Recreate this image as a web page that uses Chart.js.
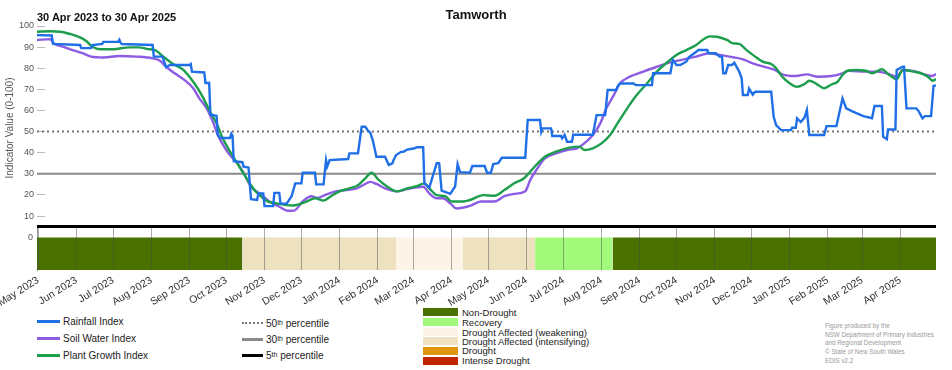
<!DOCTYPE html>
<html>
<head>
<meta charset="utf-8">
<title>Tamworth</title>
<script src="https://cdn.jsdelivr.net/npm/chart.js@4.4.1/dist/chart.umd.min.js"></script>
<style>
  body { margin: 0; background: #fff; font-family: "Liberation Sans", Arial, sans-serif; }
  #wrap { position: relative; width: 952px; height: 370px; overflow: hidden; }
  #main-chart { position: absolute; left: 0; top: 0; z-index: 2; }
  #band-chart { position: absolute; left: 0; top: 222px; z-index: 1; }
  .title { position: absolute; left: 0; width: 952px; top: 7px; text-align: center; font-weight: bold; font-size: 13px; color: #111; z-index: 3; }
  .subtitle { position: absolute; left: 37px; top: 11px; font-weight: bold; font-size: 11px; color: #111; z-index: 3; }
  .legend-row { position: absolute; height: 14px; display: flex; align-items: center; font-size: 10px; color: #222; white-space: nowrap; }
  .legend-row .swatch { width: 23px; margin-right: 3px; }
  .legend-row sup { font-size: 7px; line-height: 0; }
  .status-row { position: absolute; height: 10px; display: flex; align-items: center; font-size: 9.5px; color: #222; white-space: nowrap; }
  .status-row .box { width: 35px; height: 8px; margin-right: 4px; }
  .credit { position: absolute; left: 825px; top: 322px; font-size: 6.3px; line-height: 8.7px; color: #999; }
</style>
</head>
<body>
<div id="wrap">
  <div class="title">Tamworth</div>
  <div class="subtitle">30 Apr 2023 to 30 Apr 2025</div>
  <canvas id="main-chart" width="952" height="230"></canvas>
  <canvas id="band-chart" width="952" height="86"></canvas>
  <div id="legend"></div>
  <div class="credit">Figure produced by the<br>NSW Department of Primary Industries<br>and Regional Development<br>© State of New South Wales<br>EDIS v2.2</div>
</div>
<script>
/* ---------- data ---------- */

const startDate = "2023-04-30";
const endDate = "2025-04-30";

const monthLabels = [
  "May 2023", "Jun 2023", "Jul 2023", "Aug 2023", "Sep 2023", "Oct 2023",
  "Nov 2023", "Dec 2023", "Jan 2024", "Feb 2024", "Mar 2024", "Apr 2024",
  "May 2024", "Jun 2024", "Jul 2024", "Aug 2024", "Sep 2024", "Oct 2024",
  "Nov 2024", "Dec 2024", "Jan 2025", "Feb 2025", "Mar 2025", "Apr 2025",
];

const yTicks = [10, 20, 30, 40, 50, 60, 70, 80, 90, 100];

const rainfallDates = [
  "2023-04-30", "2023-05-12", "2023-05-13", "2023-06-04", "2023-06-05", "2023-06-13",
  "2023-06-14", "2023-06-22", "2023-06-23", "2023-07-05", "2023-07-06", "2023-07-07",
  "2023-07-08", "2023-08-02", "2023-08-03", "2023-08-10", "2023-08-13", "2023-08-16",
  "2023-09-01", "2023-09-02", "2023-09-03", "2023-09-13", "2023-09-14", "2023-09-17",
  "2023-09-18", "2023-09-23", "2023-09-24", "2023-09-26", "2023-10-04", "2023-10-05",
  "2023-10-06", "2023-10-07", "2023-10-14", "2023-10-15", "2023-10-19", "2023-10-21",
  "2023-10-26", "2023-10-27", "2023-10-31", "2023-11-01", "2023-11-08", "2023-11-09",
  "2023-11-13", "2023-11-14", "2023-11-19", "2023-11-23", "2023-11-26", "2023-12-01",
  "2023-12-02", "2023-12-12", "2023-12-13", "2023-12-19", "2023-12-21", "2023-12-22",
  "2023-12-24", "2024-01-08", "2024-01-09", "2024-01-16", "2024-01-19", "2024-01-22",
  "2024-01-24", "2024-01-26", "2024-01-28", "2024-01-31", "2024-02-07", "2024-02-10",
  "2024-02-13", "2024-02-14", "2024-02-16", "2024-02-20", "2024-02-22", "2024-02-25",
  "2024-03-02", "2024-03-04", "2024-03-09", "2024-03-10", "2024-03-14", "2024-03-20",
  "2024-03-22", "2024-03-24", "2024-03-31", "2024-04-04", "2024-04-06", "2024-04-08",
  "2024-04-16", "2024-04-18", "2024-04-28", "2024-04-30", "2024-05-03", "2024-05-05",
  "2024-05-09", "2024-05-12", "2024-05-31", "2024-06-02", "2024-06-12", "2024-06-13",
  "2024-06-14", "2024-06-21", "2024-06-22", "2024-06-29", "2024-06-30", "2024-07-02",
  "2024-07-04", "2024-07-08", "2024-07-09", "2024-07-25", "2024-07-28", "2024-08-04",
  "2024-08-06", "2024-08-13", "2024-08-14", "2024-08-16", "2024-08-27", "2024-08-29",
  "2024-09-11", "2024-09-12", "2024-09-26", "2024-09-28", "2024-10-01", "2024-10-04",
  "2024-10-09", "2024-10-11", "2024-10-19", "2024-10-26", "2024-10-27", "2024-11-02",
  "2024-11-05", "2024-11-07", "2024-11-08", "2024-11-10", "2024-11-12", "2024-11-15",
  "2024-11-17", "2024-11-21", "2024-11-23", "2024-11-24", "2024-11-28", "2024-11-29",
  "2024-12-02", "2024-12-04", "2024-12-17", "2024-12-19", "2024-12-21", "2024-12-25",
  "2025-01-02", "2025-01-03", "2025-01-06", "2025-01-07", "2025-01-10", "2025-01-13",
  "2025-01-15", "2025-01-17", "2025-01-29", "2025-01-31", "2025-02-08", "2025-02-13",
  "2025-02-16", "2025-02-21", "2025-03-02", "2025-03-09", "2025-03-11", "2025-03-17",
  "2025-03-18", "2025-03-21", "2025-03-22", "2025-03-28", "2025-03-29", "2025-04-03",
  "2025-04-04", "2025-04-06", "2025-04-14", "2025-04-16", "2025-04-19", "2025-04-21",
  "2025-04-26", "2025-04-28", "2025-04-30",
];
const rainfallValues = [
  95.7, 95.5, 91.5, 91.0, 89.5, 89.5,
  91.0, 91.5, 92.5, 92.5, 93.5, 92.0,
  91.5, 91.0, 85.5, 85.5, 80.5, 81.5,
  81.5, 82.0, 78.4, 78.0, 73.0, 73.0,
  58.0, 57.5, 48.5, 47.0, 47.0, 49.0,
  48.0, 36.0, 35.5, 33.4, 33.0, 18.0,
  17.6, 20.7, 20.7, 14.7, 14.7, 21.0,
  21.0, 15.9, 15.9, 19.4, 25.5, 25.5,
  30.5, 30.5, 25.0, 25.0, 36.5, 33.5,
  36.5, 37.0, 39.7, 39.7, 52.3, 52.3,
  50.5, 49.5, 46.0, 38.1, 38.1, 34.2,
  35.0, 36.5, 38.9, 40.4, 40.4, 41.5,
  42.1, 42.6, 42.6, 25.5, 23.5, 35.0,
  35.0, 22.0, 20.5, 24.0, 34.6, 30.8,
  30.5, 33.7, 33.7, 30.5, 30.5, 34.6,
  35.0, 37.6, 37.6, 55.5, 55.5, 49.9,
  51.5, 51.5, 47.9, 47.9, 46.8, 48.5,
  45.2, 45.2, 48.5, 48.5, 57.8, 57.8,
  69.7, 69.7, 71.3, 72.8, 72.8, 72.0,
  72.0, 77.6, 77.6, 83.9, 81.5, 81.5,
  83.1, 85.2, 88.6, 88.6, 87.1, 87.1,
  85.5, 85.5, 77.6, 77.6, 81.5, 81.5,
  82.6, 78.4, 75.2, 67.3, 67.3, 70.4,
  67.5, 68.9, 68.9, 57.0, 53.1, 50.7,
  50.7, 51.8, 51.8, 56.3, 54.5, 56.5,
  60.2, 48.4, 48.4, 52.6, 52.6, 65.7,
  61.0, 59.6, 57.3, 56.3, 62.1, 62.1,
  47.6, 46.4, 51.0, 51.0, 79.2, 80.7,
  80.7, 61.0, 61.0, 59.6, 56.3, 57.3,
  57.3, 71.6, 71.9,
];

const soilDates = [
  "2023-04-30", "2023-05-11", "2023-05-13", "2023-05-21", "2023-05-29", "2023-06-06",
  "2023-06-13", "2023-06-23", "2023-07-06", "2023-07-20", "2023-08-02", "2023-08-08",
  "2023-08-13", "2023-08-20", "2023-08-28", "2023-09-04", "2023-09-09", "2023-09-15",
  "2023-09-20", "2023-09-24", "2023-09-30", "2023-10-05", "2023-10-10", "2023-10-16",
  "2023-10-21", "2023-10-28", "2023-11-05", "2023-11-13", "2023-11-20", "2023-11-25",
  "2023-12-02", "2023-12-09", "2023-12-14", "2023-12-21", "2023-12-29", "2024-01-06",
  "2024-01-15", "2024-01-20", "2024-01-26", "2024-01-31", "2024-02-07", "2024-02-17",
  "2024-02-25", "2024-03-04", "2024-03-09", "2024-03-14", "2024-03-20", "2024-03-25",
  "2024-03-31", "2024-04-05", "2024-04-16", "2024-04-25", "2024-05-06", "2024-05-14",
  "2024-05-22", "2024-05-31", "2024-06-04", "2024-06-09", "2024-06-16", "2024-06-25",
  "2024-07-04", "2024-07-12", "2024-07-18", "2024-07-25", "2024-07-31", "2024-08-05",
  "2024-08-11", "2024-08-16", "2024-08-24", "2024-09-04", "2024-09-15", "2024-09-26",
  "2024-10-07", "2024-10-17", "2024-10-28", "2024-11-05", "2024-11-16", "2024-11-24",
  "2024-12-02", "2024-12-13", "2024-12-20", "2024-12-26", "2025-01-06", "2025-01-15",
  "2025-01-24", "2025-02-04", "2025-02-13", "2025-02-18", "2025-03-04", "2025-03-13",
  "2025-03-21", "2025-03-29", "2025-04-03", "2025-04-14", "2025-04-22", "2025-04-27",
  "2025-04-30",
];
const soilValues = [
  93.4, 93.8, 92.1, 90.2, 88.6, 87.1,
  85.5, 85.1, 85.8, 85.5, 84.7, 83.6,
  80.7, 77.6, 74.4, 70.5, 65.7, 61.0,
  54.7, 48.4, 42.1, 38.1, 35.0, 29.4,
  23.9, 20.7, 16.9, 14.4, 12.5, 12.6,
  16.9, 19.4, 18.6, 20.2, 21.7, 22.3,
  23.1, 24.6, 26.2, 25.2, 23.1, 21.7,
  22.8, 23.6, 23.9, 20.7, 18.4, 18.4,
  16.0, 13.6, 14.8, 16.9, 16.9, 19.4,
  20.5, 21.7, 27.0, 31.8, 37.3, 39.7,
  41.3, 42.1, 44.4, 48.4, 53.9, 61.0,
  67.3, 72.8, 76.0, 78.4, 80.7, 82.8,
  84.2, 85.5, 87.1, 86.3, 85.2, 84.2,
  82.3, 80.4, 79.2, 77.1, 76.3, 77.1,
  76.0, 76.3, 77.6, 78.8, 78.4, 78.4,
  77.6, 76.0, 79.2, 78.4, 76.8, 76.3,
  77.3,
];

const plantDates = [
  "2023-04-30", "2023-05-11", "2023-05-19", "2023-05-27", "2023-06-04", "2023-06-09",
  "2023-06-14", "2023-06-21", "2023-07-01", "2023-07-14", "2023-07-22", "2023-07-28",
  "2023-08-05", "2023-08-10", "2023-08-18", "2023-08-27", "2023-09-04", "2023-09-11",
  "2023-09-17", "2023-09-23", "2023-09-28", "2023-10-04", "2023-10-09", "2023-10-14",
  "2023-10-20", "2023-10-25", "2023-10-31", "2023-11-04", "2023-11-11", "2023-11-19",
  "2023-11-24", "2023-11-30", "2023-12-05", "2023-12-12", "2023-12-19", "2023-12-25",
  "2024-01-01", "2024-01-09", "2024-01-16", "2024-01-22", "2024-01-27", "2024-02-02",
  "2024-02-09", "2024-02-17", "2024-02-25", "2024-03-04", "2024-03-10", "2024-03-14",
  "2024-03-20", "2024-03-27", "2024-04-01", "2024-04-11", "2024-04-16", "2024-04-27",
  "2024-05-06", "2024-05-14", "2024-05-22", "2024-05-30", "2024-06-04", "2024-06-09",
  "2024-06-16", "2024-06-25", "2024-07-06", "2024-07-14", "2024-07-18", "2024-07-25",
  "2024-08-01", "2024-08-08", "2024-08-14", "2024-08-21", "2024-08-29", "2024-09-07",
  "2024-09-15", "2024-09-23", "2024-10-01", "2024-10-09", "2024-10-17", "2024-10-23",
  "2024-10-28", "2024-11-03", "2024-11-11", "2024-11-16", "2024-11-21", "2024-11-27",
  "2024-12-04", "2024-12-10", "2024-12-17", "2024-12-21", "2024-12-26", "2025-01-01",
  "2025-01-07", "2025-01-13", "2025-01-17", "2025-01-23", "2025-01-29", "2025-02-04",
  "2025-02-09", "2025-02-13", "2025-02-17", "2025-02-24", "2025-03-04", "2025-03-09",
  "2025-03-17", "2025-03-22", "2025-03-29", "2025-04-03", "2025-04-12", "2025-04-19",
  "2025-04-24", "2025-04-27", "2025-04-30",
];
const plantValues = [
  97.3, 97.5, 97.3, 96.2, 94.6, 92.9,
  90.2, 89.0, 89.0, 89.9, 89.9, 89.2,
  88.3, 85.8, 82.3, 79.2, 73.6, 67.3,
  60.2, 53.9, 46.8, 40.5, 35.7, 31.0,
  25.5, 21.5, 18.4, 16.8, 16.0, 15.2,
  15.0, 15.8, 16.8, 18.4, 17.3, 19.4,
  21.7, 23.1, 24.6, 27.9, 30.5, 27.0,
  23.9, 21.7, 23.1, 24.2, 25.5, 23.1,
  19.9, 19.4, 16.9, 16.9, 17.6, 19.9,
  19.6, 22.3, 25.5, 27.9, 31.0, 34.2,
  38.1, 40.5, 42.4, 42.9, 41.3, 42.1,
  44.4, 48.4, 53.9, 60.2, 66.8, 72.8,
  78.4, 82.6, 86.3, 88.6, 91.0, 93.7,
  95.1, 94.9, 93.4, 91.8, 91.5, 88.6,
  85.5, 83.1, 82.0, 80.0, 76.0, 72.9,
  71.2, 72.5, 74.1, 72.5, 70.5, 72.3,
  73.6, 76.8, 78.8, 79.2, 78.8, 77.6,
  79.5, 77.3, 74.8, 79.2, 78.4, 77.3,
  75.7, 74.1, 74.8,
];

const seriesNames = ["Rainfall Index", "Soil Water Index", "Plant Growth Index"];
const seriesColors = ["#1f6fe6", "#8c5ce4", "#1c9e4c"];

const percentileNames = ["50", "30", "5"];
const percentileValues = [50, 30, 5];
const percentileColors = ["#777777", "#8a8a8a", "#000000"];

const statusNames = [
  "Non-Drought", "Recovery", "Drought Affected (weakening)",
  "Drought Affected (intensifying)", "Drought", "Intense Drought",
];
const statusColors = ["#4a7000", "#a2f97a", "#fdf3e7", "#ede1bf", "#e0960c", "#c02400"];

// status periods shown in the band (index into statusNames)
const periodStarts = ["2023-04-30", "2023-10-14", "2024-02-16", "2024-04-10", "2024-06-08", "2024-08-10"];
const periodEnds = ["2023-10-14", "2024-02-16", "2024-04-10", "2024-06-08", "2024-08-10", "2025-04-30"];
const periodStatus = [0, 3, 2, 3, 1, 0];

/* ---------- helpers ---------- */

const DAY = 86400000;
const MONTHS = ["Jan", "Feb", "Mar", "Apr", "May", "Jun", "Jul", "Aug", "Sep", "Oct", "Nov", "Dec"];

function dayIndex(iso) {
  const [y, m, d] = iso.split("-").map(Number);
  const [y0, m0, d0] = startDate.split("-").map(Number);
  return Math.round((Date.UTC(y, m - 1, d) - Date.UTC(y0, m0 - 1, d0)) / DAY);
}

function monthTickDay(label) {
  const [mon, year] = label.split(" ");
  const idx = MONTHS.indexOf(mon) + 1;
  return dayIndex(`${year}-${String(idx).padStart(2, "0")}-01`);
}

function toPoints(dates, values) {
  return dates.map((d, i) => ({ x: dayIndex(d), y: values[i] }));
}

// fixed axis box: 37px wide, no extra vertical padding from the labels
function fixYAxis(scale) {
  scale.width = 37;
  scale.paddingTop = 0;
  scale.paddingBottom = 0;
}

const xMax = dayIndex(endDate);
const FONT = "'Liberation Sans', Arial, sans-serif";

/* ---------- main chart ---------- */

const lineBase = { pointRadius: 0, borderWidth: 2.4, fill: false };

new Chart(document.getElementById("main-chart"), {
  type: "line",
  data: {
    datasets: [
      { ...lineBase, label: seriesNames[0], data: toPoints(rainfallDates, rainfallValues), borderColor: seriesColors[0], tension: 0 },
      { ...lineBase, label: seriesNames[2], data: toPoints(plantDates, plantValues), borderColor: seriesColors[2], cubicInterpolationMode: "monotone" },
      { ...lineBase, label: seriesNames[1], data: toPoints(soilDates, soilValues), borderColor: seriesColors[1], cubicInterpolationMode: "monotone" },
      ...percentileValues.map((v, i) => ({
        ...lineBase,
        label: percentileNames[i] + "th percentile",
        data: [{ x: 0, y: v }, { x: xMax, y: v }],
        borderColor: percentileColors[i],
        borderWidth: i === 2 ? 3 : 2,
        borderDash: i === 0 ? [2, 3] : [],
      })),
    ],
  },
  options: {
    responsive: false,
    animation: false,
    parsing: false,
    layout: { padding: { top: 26, right: 16, left: 0, bottom: 0 } },
    plugins: { legend: { display: false }, tooltip: { enabled: false } },
    scales: {
      x: { type: "linear", min: 0, max: xMax, display: false },
      y: {
        type: "linear",
        min: 3.4,
        max: 100,
        afterBuildTicks: (scale) => { scale.ticks = yTicks.map((v) => ({ value: v })); },
        afterFit: fixYAxis,
        ticks: { color: "#555", font: { family: FONT, size: 9 }, padding: 11 },
        grid: { drawOnChartArea: false, drawTicks: true, tickLength: -8, color: "#bbb" },
        border: { display: false },
        title: {
          display: true,
          text: "Indicator Value (0-100)",
          color: "#555",
          font: { family: FONT, size: 10 },
          padding: { top: 4, bottom: 0 },
        },
      },
    },
  },
});

/* ---------- status band ---------- */

new Chart(document.getElementById("band-chart"), {
  type: "line",
  data: {
    datasets: periodStarts.map((s, i) => ({
      label: statusNames[periodStatus[i]],
      data: [{ x: dayIndex(s), y: 0 }, { x: dayIndex(periodEnds[i]), y: 0 }],
      backgroundColor: statusColors[periodStatus[i]],
      borderWidth: 0,
      pointRadius: 0,
      fill: "start",
    })),
  },
  options: {
    responsive: false,
    animation: false,
    parsing: false,
    layout: { padding: { top: 5, right: 16, left: 0, bottom: 0 } },
    plugins: { legend: { display: false }, tooltip: { enabled: false } },
    scales: {
      x: {
        type: "linear",
        min: 0,
        max: xMax,
        afterBuildTicks: (scale) => {
          scale.ticks = monthLabels.map((l) => ({ value: monthTickDay(l), label: l }));
        },
        afterFit: (scale) => {
          scale.height = 38;
          scale.paddingLeft = 0;
          scale.paddingRight = 0;
        },
        ticks: {
          autoSkip: false,
          minRotation: 32,
          maxRotation: 32,
          color: "#333",
          font: { family: FONT, size: 10.5 },
          padding: 4,
          callback: (val, idx, ticks) => ticks[idx].label,
        },
        grid: { color: "rgba(70,70,70,0.45)", z: 1, drawTicks: false },
        border: { display: false },
      },
      y: {
        type: "linear",
        min: -15.4,
        max: 5,
        afterBuildTicks: (scale) => { scale.ticks = [{ value: 0 }]; },
        afterFit: fixYAxis,
        ticks: { color: "#555", font: { family: FONT, size: 9 }, padding: 4 },
        grid: { drawOnChartArea: false, drawTicks: false },
        border: { display: true, color: "#999", width: 1 },
      },
    },
  },
});

/* ---------- legend ---------- */

const legendEl = document.getElementById("legend");

const lineRowsY = [314, 331, 348];
seriesNames.forEach((name, i) => {
  const row = document.createElement("div");
  row.className = "legend-row";
  row.style.left = "37px";
  row.style.top = lineRowsY[i] + "px";
  row.innerHTML = `<span class="swatch" style="border-top:3px solid ${seriesColors[i]}"></span>${name}`;
  legendEl.appendChild(row);
});

const pctRowsY = [316, 332, 348];
percentileNames.forEach((p, i) => {
  const row = document.createElement("div");
  row.className = "legend-row";
  row.style.left = "242px";
  row.style.top = pctRowsY[i] + "px";
  const style = i === 0
    ? `border-top:2px dotted ${percentileColors[i]}`
    : `border-top:3px solid ${percentileColors[i]}`;
  row.innerHTML = `<span class="swatch" style="${style}; width:21px"></span>${p}<sup>th</sup>&nbsp;percentile`;
  legendEl.appendChild(row);
});

const statusRowsY = [307, 317, 327, 336, 345.5, 355.5];
statusNames.forEach((name, i) => {
  const row = document.createElement("div");
  row.className = "status-row";
  row.style.left = "423px";
  row.style.top = statusRowsY[i] + "px";
  row.innerHTML = `<span class="box" style="background:${statusColors[i]}"></span>${name}`;
  legendEl.appendChild(row);
});
</script>
</body>
</html>
